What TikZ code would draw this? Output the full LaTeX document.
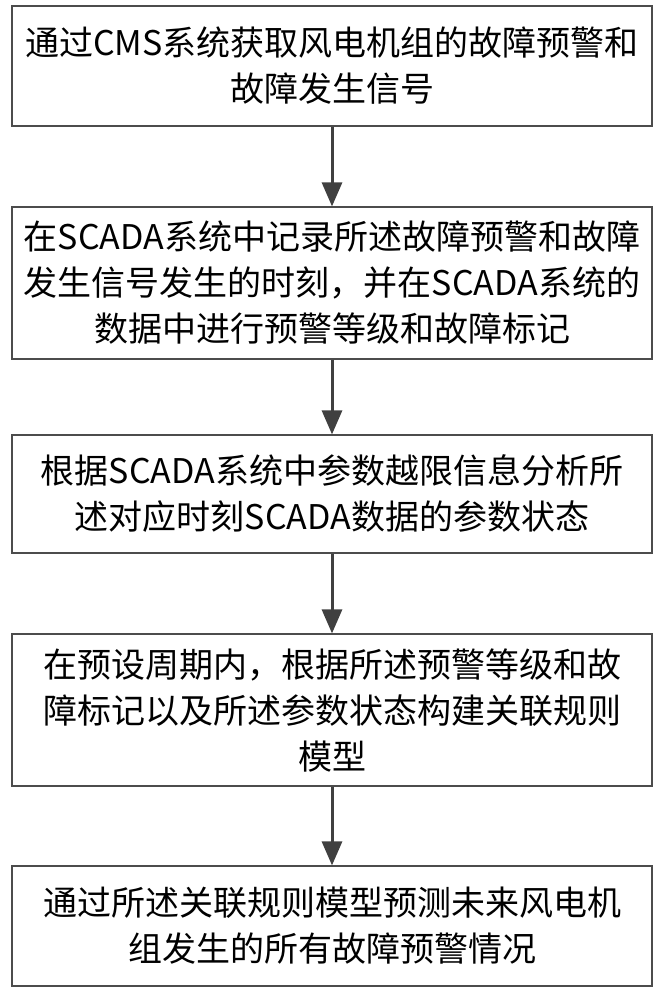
\documentclass[tikz,border=0pt]{standalone}
\usepackage{fontspec}
\setmainfont{Noto Sans CJK SC}
\usetikzlibrary{arrows.meta}

\begin{document}
\begin{tikzpicture}[x=1pt, y=-1pt, >={Triangle[length=24pt,width=20pt]}]
  \tikzset{stepbox/.style={draw=black!70, line width=1.2pt, minimum width=640pt, text width=636pt, align=center, font=\fontsize{34}{46}\selectfont, inner sep=0pt}}
  \useasboundingbox (0,0) rectangle (661,1000);

  % Nodes
  \node[stepbox, minimum height=120pt] (s1) at (332, 66) {通过CMS系统获取风电机组的故障预警和\\故障发生信号};
  \node[stepbox, minimum height=152pt] (s2) at (332, 283) {在SCADA系统中记录所述故障预警和故障\\发生信号发生的时刻，并在SCADA系统的\\数据中进行预警等级和故障标记};
  \node[stepbox, minimum height=118pt] (s3) at (332, 494) {根据SCADA系统中参数越限信息分析所\\述对应时刻SCADA数据的参数状态};
  \node[stepbox, minimum height=152pt] (s4) at (332, 710) {在预设周期内，根据所述预警等级和故\\障标记以及所述参数状态构建关联规则\\模型};
  \node[stepbox, minimum height=120pt] (s5) at (332, 926) {通过所述关联规则模型预测未来风电机\\组发生的所有故障预警情况};

  % Arrows
  \draw[->, black!75, line width=3pt] (s1) -- (s2);
  \draw[->, black!75, line width=3pt] (s2) -- (s3);
  \draw[->, black!75, line width=3pt] (s3) -- (s4);
  \draw[->, black!75, line width=3pt] (s4) -- (s5);
\end{tikzpicture}
\end{document}
